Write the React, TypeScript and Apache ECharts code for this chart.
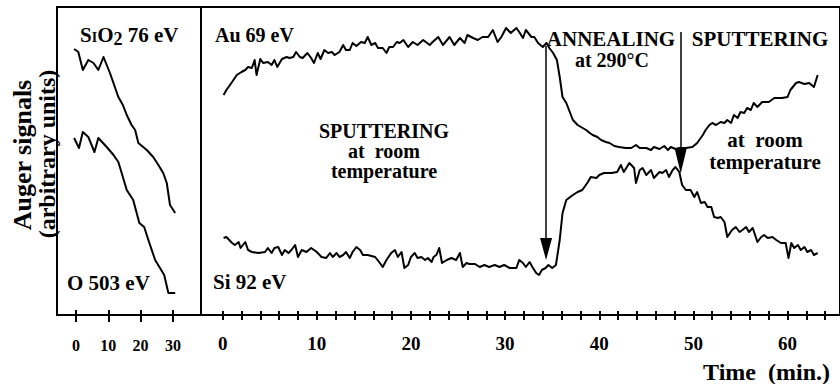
import React, { useEffect, useRef } from "react";
import * as echarts from "echarts";

const FONT = '"Liberation Serif", "Times New Roman", serif';

// Left panel (time in min, signal in arbitrary units)
const sio2Data = [[-0.6,266],[0.7,263],[2.1,245],[3.8,255],[5.4,252],[6.9,245],[8.5,258],[10.5,242],[13.1,218],[14.5,210],[15.7,200],[17.2,190],[18.3,185],[19.3,172],[21.9,165],[23.9,158],[25.5,150],[27.0,142],[28.1,132],[29.1,110],[30.7,102]];
const oData = [[-0.6,177],[0.9,167],[2.1,183],[3.8,178],[5.7,163],[6.9,177],[9.5,168],[11.6,160],[13.1,153],[14.5,138],[15.7,125],[17.7,115],[19.6,92],[21.1,88],[22.4,75],[24.5,55],[26.0,47],[27.3,40],[28.6,22],[30.7,22]];

// Right panel
const auData = [[0.1,220],[0.4,225],[1.0,233],[1.5,240],[2.0,243],[2.4,245],[2.7,248],[3.1,247],[3.4,255],[3.6,240],[4.0,256],[4.3,252],[4.8,253],[5.2,250],[5.5,255],[5.8,248],[6.3,256],[6.8,258],[7.1,257],[7.5,258],[7.8,263],[8.2,258],[8.5,257],[9.0,262],[9.4,257],[9.7,252],[10.1,262],[10.4,256],[10.8,265],[11.2,262],[11.6,263],[11.9,260],[12.4,263],[12.8,270],[13.1,265],[13.5,265],[13.8,272],[14.2,269],[14.7,273],[15.1,272],[15.4,278],[15.8,270],[16.2,272],[16.5,267],[17.0,267],[17.4,262],[17.7,268],[18.1,268],[18.5,273],[18.8,272],[19.2,275],[19.7,268],[20.2,273],[20.7,270],[21.3,275],[22.0,270],[22.3,273],[22.9,278],[23.4,270],[24.1,278],[24.6,270],[25.2,277],[25.7,272],[26.0,280],[26.6,277],[27.1,275],[27.6,278],[28.2,278],[28.7,285],[29.2,273],[29.6,278],[30.1,287],[30.6,282],[31.2,287],[31.5,283],[31.9,277],[32.2,285],[32.8,278],[33.1,278],[33.5,272],[34.0,268],[34.4,272],[34.7,267],[35.1,262],[35.5,255],[35.8,238],[36.1,218],[36.5,212],[37.2,195],[37.7,190],[38.6,185],[39.0,182],[39.3,180],[39.8,178],[40.2,175],[40.7,173],[41.1,172],[41.6,169],[42.1,168],[42.8,167],[43.4,167],[43.9,170],[44.3,167],[45.0,167],[45.5,165],[45.8,168],[46.4,166],[46.9,169],[47.3,165],[47.6,168],[48.1,166],[48.5,167],[49.2,167],[49.9,168],[50.4,172],[51.0,180],[51.3,185],[51.7,190],[52.0,192],[52.4,190],[52.9,193],[53.3,192],[53.6,195],[54.0,192],[54.3,200],[54.7,197],[55.0,203],[55.4,202],[55.7,207],[56.1,205],[56.4,212],[56.8,208],[57.3,213],[58.0,213],[58.6,217],[59.4,217],[60.0,218],[60.3,225],[60.9,232],[61.2,233],[61.8,231],[62.3,232],[62.8,228],[63.2,240]];
const siData = [[0.1,77],[0.4,78],[0.7,75],[1.0,72],[1.3,70],[1.7,73],[1.9,67],[2.4,73],[2.7,65],[3.1,63],[3.8,62],[4.5,63],[4.8,67],[5.2,62],[5.5,67],[5.9,68],[6.3,60],[6.6,65],[7.0,62],[7.3,65],[7.7,70],[8.0,58],[8.4,65],[8.9,63],[9.4,67],[10.0,63],[10.5,58],[11.0,57],[11.4,62],[11.7,58],[12.1,62],[12.4,58],[12.8,60],[13.1,63],[13.5,57],[13.8,63],[14.2,68],[14.6,65],[14.9,60],[15.4,60],[16.2,58],[16.7,52],[17.0,48],[17.4,55],[17.9,62],[18.3,65],[18.6,58],[19.0,63],[19.3,47],[19.7,50],[20.0,58],[20.4,62],[20.7,57],[21.1,58],[21.5,55],[21.8,57],[22.2,53],[22.4,58],[22.7,60],[23.0,67],[23.3,52],[23.8,55],[24.3,57],[24.8,55],[25.2,62],[25.5,48],[25.9,52],[26.2,51],[26.8,51],[27.3,48],[27.8,50],[28.3,48],[28.9,50],[29.4,48],[29.9,50],[30.5,47],[31.2,47],[31.5,55],[31.9,52],[32.2,48],[32.6,53],[32.9,48],[33.3,42],[33.6,40],[33.9,45],[34.3,47],[34.6,50],[35.0,47],[35.4,50],[35.8,75],[36.1,102],[36.5,115],[37.2,120],[37.7,123],[38.2,125],[38.8,133],[39.1,138],[39.7,137],[40.0,140],[40.5,142],[41.3,142],[41.9,143],[42.3,150],[42.6,143],[43.2,152],[43.7,147],[43.9,132],[44.3,145],[44.6,147],[45.0,140],[45.5,145],[45.8,137],[46.4,143],[46.7,142],[47.1,145],[47.4,138],[47.8,145],[48.1,148],[48.5,143],[48.8,130],[49.2,125],[49.7,125],[50.1,118],[50.4,123],[50.8,112],[51.2,113],[51.5,108],[51.9,108],[52.2,98],[52.6,97],[52.9,98],[53.3,93],[53.6,78],[54.1,85],[54.5,88],[54.9,83],[55.2,85],[55.6,88],[55.9,83],[56.3,87],[56.8,73],[57.2,78],[57.5,80],[57.9,77],[58.4,78],[58.8,75],[59.3,72],[59.8,72],[60.1,57],[60.4,72],[60.7,67],[61.1,70],[61.4,65],[61.8,68],[62.1,63],[62.5,65],[62.8,60],[63.2,62]];

const leftTicks = [0, 10, 20, 30];
const rightTicks = [0,2,4,6,8,10,12,14,16,18,20,22,24,26,28,30,32,34,36,38,40,42,44,46,48,50,52,54,56,58,60,62,64];
const rightLabels = [0, 10, 20, 30, 40, 50, 60];

// Arrows: [time, start signal, end signal (symbol centre)]
const annealArrow = [34.35, 269, 66];
const sputterArrow = [48.65, 283, 154];

const txt = (text: string, x: number, y: number, align = "left", size = 21, rotation = 0, lineHeight?: number) => ({
  type: "text",
  x,
  y,
  rotation,
  silent: true,
  style: {
    text,
    fontFamily: FONT,
    fontWeight: "bold",
    fontSize: size,
    fill: "#000",
    align,
    verticalAlign: "middle",
    textAlign: align,
    textVerticalAlign: "middle",
    ...(lineHeight ? { lineHeight } : {}),
  },
});

export default function App() {
  const ref = useRef<HTMLDivElement>(null);
  useEffect(() => {
    if (!ref.current) return;
    const chart = echarts.init(ref.current, undefined, { renderer: "svg" });
    const axisBase = (gridIndex: number, min: number, max: number) => ({
      type: "value",
      gridIndex,
      min,
      max,
      position: "bottom",
      splitLine: { show: false },
    });
    const tickStyle = { color: "#000", width: 2 };
    const labelStyle = (size: number, margin: number, values: number[]) => ({
      show: true,
      customValues: values,
      margin,
      fontFamily: FONT,
      fontWeight: "bold",
      fontSize: size,
      color: "#000",
    });
    const lineSeries = (data: number[][], axis: number, yIdx: number) => ({
      type: "line",
      data,
      xAxisIndex: axis,
      yAxisIndex: yIdx,
      symbol: "none",
      showSymbol: false,
      silent: true,
      color: "#000",
      lineStyle: { color: "#000", width: 2, join: "round" },
    });
    const option: any = {
      animation: false,
      backgroundColor: "#fff",
      grid: [
        { left: 57, top: 7, width: 144, height: 308, show: true, borderColor: "#000", borderWidth: 2 },
        { left: 201, top: 7, width: 640, height: 308, show: true, borderColor: "#000", borderWidth: 2 },
      ],
      xAxis: [
        {
          ...axisBase(0, -5.9, 38.7),
          axisLine: { show: true, onZero: false, lineStyle: tickStyle },
          axisTick: { show: true, inside: false, length: 7, customValues: leftTicks, lineStyle: tickStyle },
          axisLabel: labelStyle(16, 22, leftTicks),
        },
        {
          ...axisBase(0, -5.9, 38.7),
          axisLine: { show: false, onZero: false },
          axisTick: { show: true, inside: true, length: 5, customValues: leftTicks, lineStyle: tickStyle },
          axisLabel: { show: false },
        },
        {
          ...axisBase(1, -2.3, 65.57),
          axisLine: { show: true, onZero: false, lineStyle: tickStyle },
          axisTick: { show: true, inside: false, length: 5, customValues: rightTicks, lineStyle: tickStyle },
          axisLabel: labelStyle(19, 19, rightLabels),
        },
        {
          ...axisBase(1, -2.3, 65.57),
          axisLine: { show: false, onZero: false },
          axisTick: { show: true, inside: true, length: 4, customValues: rightTicks, lineStyle: tickStyle },
          axisLabel: { show: false },
        },
      ],
      yAxis: [
        { type: "value", gridIndex: 0, min: 0, max: 308, show: false, splitLine: { show: false } },
        { type: "value", gridIndex: 1, min: 0, max: 308, show: false, splitLine: { show: false } },
      ],
      series: [
        lineSeries(sio2Data, 0, 0),
        lineSeries(oData, 0, 0),
        {
          ...lineSeries(auData, 2, 1),
          markLine: {
            silent: true,
            animation: false,
            symbol: ["none", "triangle"],
            label: { show: false },
            emphasis: { disabled: true },
            itemStyle: { color: "#000" },
            lineStyle: { color: "#000", width: 1.5, type: "solid" },
            data: [
              [
                { coord: [annealArrow[0], annealArrow[1]], symbol: "none" },
                { coord: [annealArrow[0], annealArrow[2]], symbol: "triangle", symbolSize: [12, 22] },
              ],
              [
                { coord: [sputterArrow[0], sputterArrow[1]], symbol: "none" },
                { coord: [sputterArrow[0], sputterArrow[2]], symbol: "triangle", symbolSize: [12, 25] },
              ],
            ],
          },
        },
        lineSeries(siData, 2, 1),
      ],
      graphic: [
        {
          type: "text",
          x: 80,
          y: 35,
          silent: true,
          style: {
            text: "{a|S}{b|I}{a|O}{s|2}{a| 76 eV}",
            fontFamily: FONT,
            fontWeight: "bold",
            fontSize: 21,
            fill: "#000",
            verticalAlign: "middle",
            textVerticalAlign: "middle",
            rich: {
              a: { fontFamily: FONT, fontWeight: "bold", fontSize: 21, fill: "#000", color: "#000" },
              b: { fontFamily: FONT, fontWeight: "bold", fontSize: 14, fill: "#000", color: "#000", padding: [4, 0, 0, 0] },
              s: { fontFamily: FONT, fontWeight: "bold", fontSize: 18, fill: "#000", color: "#000", padding: [8, 0, 0, 0] },
            },
          },
        },
        txt("O 503 eV", 67, 283),
        txt("Au 69 eV", 215, 34.5, "left", 20),
        txt("Si 92 eV", 213, 281.5),
        txt("SPUTTERING\nat  room\ntemperature", 384, 151, "center", 20, 0, 20),
        txt("ANNEALING", 611, 38.5, "center"),
        txt("at 290°C", 612, 60, "center", 20),
        txt("SPUTTERING", 760, 39, "center"),
        txt("at  room\ntemperature", 765, 150.5, "center", 21, 0, 22),
        txt("Time  (min.)", 830, 371.5, "right", 24),
        txt("Auger signals", 22, 155, "center", 26, Math.PI / 2),
        txt("(arbitrary units)", 47, 154, "center", 24, Math.PI / 2),
      ],
    };
    chart.setOption(option);
    return () => chart.dispose();
  }, []);
  return <div ref={ref} style={{ position: "absolute", left: 0, top: 0, width: 840, height: 384 }} />;
}
